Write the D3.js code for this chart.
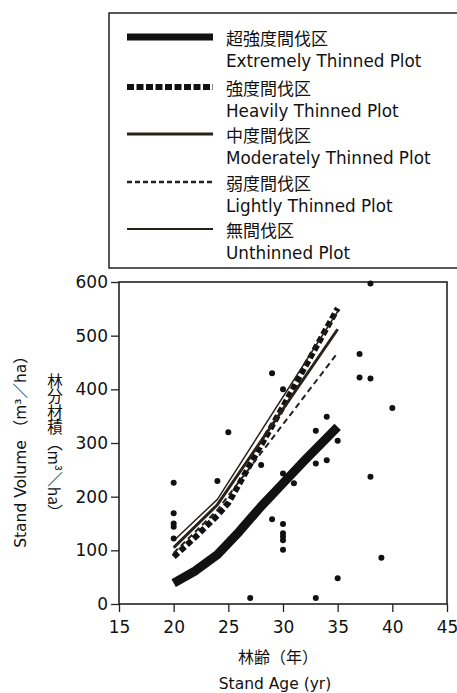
<!DOCTYPE html>
<html><head><meta charset="utf-8">
<script src="https://cdn.jsdelivr.net/npm/d3@7"></script>
<style>
html,body{margin:0;padding:0;background:#fff;}
svg{display:block;}
</style></head>
<body>
<script>
// ---- data ----
const seriesNames = ["超強度間伐区","強度間伐区","中度間伐区","弱度間伐区","無間伐区"];
const seriesNamesEn = ["Extremely Thinned Plot","Heavily Thinned Plot","Moderately Thinned Plot","Lightly Thinned Plot","Unthinned Plot"];
const extremelyLine = [[20,39],[22,62],[24,92],[26,135],[28,182],[30,225],[32,268],[35,330]];
const heavilyLine   = [[20,88],[22,125],[24,165],[25,188],[30,368],[35,551]];
const moderatelyLine= [[20,105],[24,185],[35,512]];
const lightlyLine   = [[20,95],[24,175],[35,468]];
const unthinnedLine = [[20,118],[24,195],[35,545]];
const plotAges   = [20,20,20,20,20,24,25,27,28,29,29,30,30,30,30,30,30,30,31,33,33,33,34,34,35,35,37,37,38,38,38,39,40];
const plotVolumes= [226,169,150,144,122,229,320,11,259,430,158,400,243,149,132,126,119,101,225,323,262,11,349,268,304,48,466,422,597,420,237,86,365];
const xTicks = [15,20,25,30,35,40,45];
const yTicks = [0,100,200,300,400,500,600];

(function(){
const W=457,H=693;
const svg=d3.select("body").append("svg").attr("width",W).attr("height",H);
const mL=119,mR=447,mT=282,mB=604;
const x=d3.scaleLinear().domain([15,45]).range([mL,mR]);
const y=d3.scaleLinear().domain([0,600]).range([mB,mT]);

const styles=[
  {w:9,dash:null,c:"#111",lw:7,ldash:null},
  {w:6,dash:"6,3",c:"#111",lw:6,ldash:"7,2.5"},
  {w:3,dash:null,c:"#2a2218",lw:3,ldash:null},
  {w:2,dash:"6,4",c:"#222",lw:2.5,ldash:"5,3"},
  {w:1.5,dash:null,c:"#2a2218",lw:2,ldash:null}
];
const lines=[extremelyLine,heavilyLine,moderatelyLine,lightlyLine,unthinnedLine];

// legend
const lg=svg.append("g");
lg.append("rect").attr("x",109).attr("y",13).attr("width",360).attr("height",255)
  .attr("fill","none").attr("stroke","#222").attr("stroke-width",1.5);
const rowY=[37,87,134,182,229];
seriesNames.forEach((n,i)=>{
  const s=styles[i];
  lg.append("line").attr("x1",127).attr("x2",213).attr("y1",rowY[i]).attr("y2",rowY[i])
    .attr("stroke",s.c).attr("stroke-width",s.lw).attr("stroke-dasharray",s.ldash);
  lg.append("text").attr("x",226).attr("y",rowY[i]).attr("dominant-baseline","central")
    .attr("font-family","'Noto Sans CJK JP'").attr("font-size",17).attr("fill","#111").text(n);
  lg.append("text").attr("x",226).attr("y",rowY[i]+24).attr("dominant-baseline","central")
    .attr("font-family","'DejaVu Sans'").attr("font-size",16.8).attr("fill","#111").text(seriesNamesEn[i]);
});

// axes
const xAxis=d3.axisBottom(x).tickValues(xTicks).tickSize(8).tickPadding(9);
const gx=svg.append("g").attr("transform",`translate(0,${mB})`).call(xAxis);
const yAxis=d3.axisLeft(y).tickValues(yTicks).tickSize(8).tickPadding(3);
const gy=svg.append("g").attr("transform",`translate(${mL},0)`).call(yAxis);
[gx,gy].forEach(g=>{
  g.select(".domain").remove();
  g.selectAll(".tick line").attr("stroke","#222").attr("stroke-width",1.3);
  g.selectAll(".tick text").attr("font-family","'DejaVu Sans'").attr("font-size",17).attr("fill","#111");
});
svg.append("rect").attr("x",mL).attr("y",mT).attr("width",mR-mL).attr("height",mB-mT)
  .attr("fill","none").attr("stroke","#222").attr("stroke-width",1.6);

// lines
const lineGen=d3.line().x(d=>x(d[0])).y(d=>y(d[1]));
lines.forEach((L,i)=>{
  const s=styles[i];
  svg.append("path").attr("d",lineGen(L)).attr("fill","none").attr("stroke",s.c)
    .attr("stroke-width",s.w).attr("stroke-dasharray",s.dash).attr("stroke-linejoin","round");
});
// points
svg.append("g").selectAll("circle").data(plotAges.map((a,i)=>[a,plotVolumes[i]])).join("circle")
  .attr("cx",d=>x(d[0])).attr("cy",d=>y(d[1])).attr("r",3).attr("fill","#111");

// axis titles
svg.append("text").attr("x",278).attr("y",656).attr("text-anchor","middle").attr("dominant-baseline","central")
  .attr("font-family","'Noto Sans CJK JP'").attr("font-size",16).attr("fill","#111").text("林齢（年）");
svg.append("text").attr("x",275).attr("y",684).attr("text-anchor","middle").attr("dominant-baseline","central")
  .attr("font-family","'DejaVu Sans'").attr("font-size",15.5).attr("fill","#111").text("Stand Age (yr)");
svg.append("text").attr("transform","translate(21,448) rotate(-90)").attr("text-anchor","middle")
  .attr("dominant-baseline","central").attr("font-family","'DejaVu Sans','Noto Sans CJK JP'")
  .attr("font-size",15.5).attr("fill","#111").text("Stand Volume （m³／ha）");
svg.append("text").attr("x",55).attr("y",373).attr("style","writing-mode:vertical-rl")
  .attr("font-family","'Noto Sans CJK JP'").attr("font-size",15.5).attr("fill","#111").text("林分材積（m³／ha）");
})();
</script>
</body></html>
